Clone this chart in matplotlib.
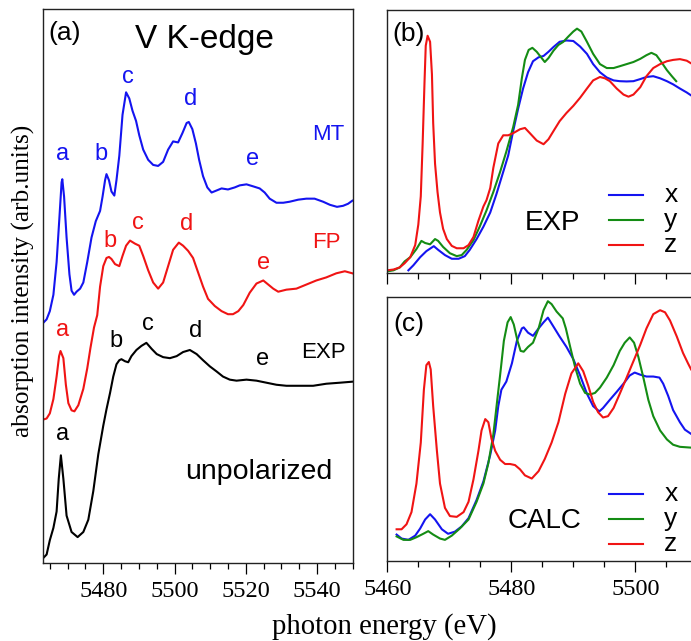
import numpy as np
import matplotlib
matplotlib.use("Agg")
import matplotlib.pyplot as plt
from matplotlib.ticker import MultipleLocator

plt.rcParams['font.family'] = ['Liberation Sans', 'DejaVu Sans']

BLUE = '#1414f0'
RED = '#f01414'
GREEN = '#148c14'
BLACK = '#000000'

# ---- panel (a): unpolarized spectra, stacked ----
e_exp = [5463.0, 5464.1, 5465.0, 5466.0, 5466.9, 5467.5, 5468.1, 5468.8, 5469.7, 5471.1,
         5472.8, 5474.4, 5475.8, 5477.2, 5478.6, 5480.0, 5480.9, 5481.9, 5482.8, 5483.7,
         5484.5, 5485.1, 5486.1, 5487.0, 5487.9, 5489.3, 5490.7, 5492.1, 5493.6, 5495.0,
         5496.8, 5498.7, 5500.6, 5502.4, 5504.3, 5506.2, 5508.0, 5509.9, 5511.8, 5513.6,
         5515.5, 5517.4, 5520.2, 5523.0, 5525.8, 5528.6, 5531.4, 5535.1, 5538.9, 5542.6,
         5546.4, 5549.9]
mu_exp = [0.04, 0.08, 0.22, 0.34, 0.50, 0.82, 1.05, 0.82, 0.46, 0.30,
          0.25, 0.30, 0.42, 0.70, 1.06, 1.34, 1.50, 1.66, 1.82, 1.94,
          1.98, 1.99, 1.97, 1.96, 2.02, 2.08, 2.12, 2.15, 2.09, 2.04,
          2.01, 2.00, 2.02, 2.06, 2.08, 2.04, 1.98, 1.92, 1.87, 1.82,
          1.79, 1.78, 1.79, 1.78, 1.76, 1.74, 1.73, 1.73, 1.73, 1.75,
          1.76, 1.77]

e_fp = [5463.2, 5464.1, 5465.0, 5466.0, 5466.9, 5467.6, 5468.0, 5468.8, 5469.5, 5470.2,
        5471.1, 5471.9, 5473.0, 5474.4, 5475.5, 5476.4, 5477.4, 5478.3, 5479.1, 5480.0,
        5480.9, 5481.6, 5482.3, 5483.3, 5484.5, 5485.4, 5486.4, 5487.5, 5488.9, 5490.1,
        5491.2, 5492.6, 5494.0, 5495.4, 5496.8, 5498.2, 5499.6, 5501.2, 5502.4, 5503.8,
        5505.2, 5506.6, 5508.0, 5509.4, 5511.3, 5513.2, 5515.0, 5516.4, 5517.9, 5519.3,
        5521.1, 5523.0, 5524.9, 5526.3, 5527.7, 5529.1, 5531.4, 5534.2, 5537.0, 5539.8,
        5542.6, 5545.4, 5547.8, 5549.9]
mu_fp = [1.40, 1.41, 1.46, 1.60, 1.82, 2.02, 2.07, 2.00, 1.74, 1.56,
         1.49, 1.48, 1.54, 1.70, 1.90, 2.10, 2.30, 2.42, 2.70, 2.90,
         2.98, 2.99, 2.97, 2.92, 2.90, 3.00, 3.10, 3.15, 3.12, 3.10,
         3.00, 2.86, 2.74, 2.68, 2.74, 2.90, 3.06, 3.13, 3.10, 3.05,
         2.98, 2.84, 2.70, 2.58, 2.51, 2.46, 2.43, 2.43, 2.46, 2.52,
         2.64, 2.73, 2.76, 2.72, 2.68, 2.65, 2.67, 2.68, 2.72, 2.76,
         2.79, 2.83, 2.85, 2.83]

e_mt = [5463.0, 5464.1, 5465.0, 5466.0, 5466.9, 5467.7, 5468.3, 5468.5, 5469.0, 5469.7,
        5470.5, 5471.1, 5471.8, 5472.5, 5473.5, 5474.4, 5475.5, 5476.7, 5477.9, 5479.1,
        5479.8, 5480.5, 5480.9, 5481.6, 5482.3, 5483.1, 5483.7, 5484.5, 5485.4, 5486.4,
        5487.3, 5488.2, 5489.2, 5490.1, 5491.2, 5492.6, 5494.0, 5495.4, 5496.8, 5498.2,
        5499.6, 5501.0, 5502.2, 5503.4, 5504.0, 5505.0, 5506.0, 5506.9, 5508.0, 5509.2,
        5510.4, 5511.8, 5513.2, 5515.0, 5516.9, 5518.3, 5520.2, 5522.1, 5523.9, 5525.3,
        5526.7, 5528.6, 5530.5, 5532.3, 5534.7, 5537.0, 5539.3, 5541.7, 5543.6, 5545.6,
        5547.3, 5548.7, 5549.9]
mu_mt = [2.34, 2.38, 2.46, 2.62, 2.94, 3.38, 3.72, 3.75, 3.58, 3.18,
         2.82, 2.66, 2.62, 2.65, 2.68, 2.74, 2.94, 3.18, 3.34, 3.44,
         3.58, 3.74, 3.80, 3.74, 3.63, 3.59, 3.74, 3.98, 4.38, 4.60,
         4.54, 4.42, 4.32, 4.18, 4.04, 3.94, 3.89, 3.88, 3.92, 4.04,
         4.12, 4.11, 4.20, 4.30, 4.31, 4.24, 4.10, 3.94, 3.78, 3.67,
         3.62, 3.64, 3.66, 3.65, 3.67, 3.69, 3.70, 3.68, 3.66, 3.62,
         3.56, 3.52, 3.52, 3.53, 3.55, 3.56, 3.56, 3.53, 3.50, 3.48,
         3.49, 3.51, 3.54]

# feature labels: (letter, energy, height)
peaks_mt = [('a', 5468.7, 4.00), ('b', 5479.3, 4.00), ('c', 5486.8, 4.75),
            ('d', 5504.6, 4.53), ('e', 5521.8, 3.95)]
peaks_fp = [('a', 5468.7, 2.28), ('b', 5481.8, 3.15), ('c', 5489.6, 3.32),
            ('d', 5503.4, 3.31), ('e', 5525.0, 2.93)]
peaks_exp = [('a', 5468.7, 1.26), ('b', 5483.6, 2.17), ('c', 5492.6, 2.33),
             ('d', 5505.9, 2.27), ('e', 5524.8, 1.99)]

# ---- panel (b): polarized experiment ----
eb_z = [5460.0, 5461.0, 5462.0, 5462.8, 5463.7, 5464.5, 5465.0, 5465.4, 5465.7, 5466.0,
        5466.2, 5466.5, 5466.9, 5467.2, 5467.4, 5467.7, 5468.1, 5468.5, 5469.0, 5469.6,
        5470.4, 5471.2, 5472.3, 5473.1, 5473.9, 5474.7, 5475.5, 5476.0, 5476.6, 5477.1,
        5477.9, 5478.7, 5479.5, 5480.3, 5481.4, 5482.2, 5483.0, 5484.1, 5485.2, 5486.0,
        5486.8, 5487.8, 5488.9, 5490.0, 5491.1, 5492.2, 5493.2, 5494.3, 5495.1, 5495.9,
        5497.0, 5498.1, 5498.9, 5499.7, 5500.8, 5501.8, 5502.9, 5504.0, 5505.1, 5506.1,
        5507.2, 5508.3, 5509.0]
mb_z = [0.009, 0.012, 0.020, 0.036, 0.059, 0.105, 0.183, 0.291, 0.492, 0.724,
        0.864, 0.902, 0.879, 0.755, 0.570, 0.415, 0.307, 0.229, 0.167, 0.128,
        0.102, 0.093, 0.093, 0.105, 0.136, 0.198, 0.252, 0.276, 0.322, 0.399,
        0.492, 0.523, 0.523, 0.531, 0.546, 0.551, 0.531, 0.503, 0.489, 0.508,
        0.539, 0.577, 0.608, 0.635, 0.666, 0.701, 0.732, 0.745, 0.740, 0.729,
        0.701, 0.678, 0.670, 0.678, 0.706, 0.748, 0.779, 0.794, 0.805, 0.810,
        0.813, 0.807, 0.797]

eb_x = [5463.4, 5464.2, 5465.3, 5466.3, 5467.5, 5468.2, 5469.3, 5470.4, 5471.5, 5472.5,
        5473.3, 5474.4, 5475.5, 5476.6, 5477.6, 5478.7, 5479.5, 5480.3, 5481.1, 5481.9,
        5482.7, 5483.5, 5484.4, 5485.2, 5486.0, 5486.8, 5487.8, 5488.9, 5490.0, 5491.1,
        5492.2, 5493.2, 5494.3, 5495.4, 5496.5, 5497.5, 5498.6, 5499.7, 5500.8, 5501.8,
        5502.9, 5504.0, 5505.1, 5506.1, 5507.2, 5508.3, 5509.0]
mb_x = [0.009, 0.028, 0.059, 0.082, 0.101, 0.087, 0.067, 0.053, 0.053, 0.063,
        0.087, 0.128, 0.175, 0.229, 0.299, 0.384, 0.446, 0.539, 0.624, 0.701,
        0.763, 0.805, 0.820, 0.825, 0.841, 0.859, 0.879, 0.884, 0.882, 0.861,
        0.833, 0.794, 0.763, 0.743, 0.732, 0.729, 0.728, 0.729, 0.737, 0.745,
        0.748, 0.740, 0.729, 0.717, 0.701, 0.686, 0.675]

eb_y = [5460.0, 5461.0, 5462.0, 5462.8, 5463.7, 5464.7, 5465.5, 5466.1, 5466.9, 5467.7,
        5468.2, 5469.0, 5470.1, 5471.2, 5472.0, 5472.8, 5473.9, 5474.9, 5476.0, 5477.1,
        5478.2, 5479.2, 5480.3, 5481.1, 5481.7, 5482.2, 5482.8, 5483.4, 5484.1, 5484.9,
        5485.4, 5486.0, 5486.8, 5487.6, 5488.4, 5489.2, 5490.0, 5490.6, 5491.3, 5492.2,
        5493.2, 5494.3, 5495.4, 5496.5, 5497.5, 5498.6, 5499.7, 5500.8, 5501.8, 5502.6,
        5503.4, 5504.2, 5505.1, 5505.9, 5506.6]
mb_y = [0.005, 0.009, 0.020, 0.043, 0.059, 0.090, 0.121, 0.113, 0.108, 0.128,
        0.121, 0.098, 0.074, 0.063, 0.067, 0.087, 0.124, 0.175, 0.237, 0.307,
        0.384, 0.461, 0.554, 0.639, 0.740, 0.810, 0.848, 0.856, 0.841, 0.817,
        0.802, 0.817, 0.845, 0.867, 0.879, 0.899, 0.918, 0.929, 0.918, 0.879,
        0.833, 0.794, 0.779, 0.779, 0.786, 0.794, 0.802, 0.814, 0.828, 0.837,
        0.828, 0.802, 0.771, 0.748, 0.729]

# ---- panel (c): polarized calculation ----
ec_z = [5461.5, 5462.3, 5463.1, 5463.9, 5464.7, 5465.4, 5465.9, 5466.3, 5466.7, 5467.0,
        5467.4, 5468.0, 5468.5, 5469.3, 5470.1, 5471.2, 5472.3, 5473.1, 5473.9, 5474.7,
        5475.2, 5475.8, 5476.3, 5476.8, 5477.4, 5478.2, 5479.0, 5479.8, 5480.6, 5481.4,
        5482.2, 5483.3, 5484.4, 5485.4, 5486.5, 5487.6, 5488.7, 5489.7, 5490.8, 5491.6,
        5492.4, 5493.2, 5494.0, 5494.8, 5495.6, 5496.5, 5497.5, 5498.6, 5499.7, 5500.8,
        5501.8, 5502.9, 5504.0, 5504.8, 5505.6, 5506.7, 5507.7, 5508.5, 5509.0]
mc_z = [0.120, 0.120, 0.139, 0.185, 0.293, 0.448, 0.648, 0.741, 0.753, 0.725,
        0.586, 0.417, 0.293, 0.201, 0.170, 0.167, 0.185, 0.224, 0.309, 0.417,
        0.494, 0.537, 0.525, 0.463, 0.417, 0.383, 0.367, 0.367, 0.363, 0.347,
        0.324, 0.312, 0.340, 0.386, 0.448, 0.525, 0.633, 0.710, 0.748, 0.718,
        0.664, 0.602, 0.563, 0.543, 0.548, 0.579, 0.633, 0.694, 0.756, 0.818,
        0.880, 0.934, 0.949, 0.941, 0.910, 0.849, 0.787, 0.748, 0.725]

ec_x = [5461.5, 5462.3, 5463.4, 5464.5, 5465.3, 5466.1, 5466.9, 5467.7, 5468.8, 5469.8,
        5470.9, 5472.0, 5473.1, 5474.4, 5475.5, 5476.6, 5477.4, 5477.9, 5478.4, 5479.2,
        5480.1, 5480.9, 5481.7, 5482.0, 5482.7, 5483.5, 5484.4, 5485.2, 5485.9, 5486.8,
        5487.8, 5488.9, 5490.0, 5491.1, 5492.2, 5493.2, 5494.2, 5494.8, 5495.9, 5497.0,
        5498.1, 5499.1, 5499.9, 5500.8, 5501.8, 5502.9, 5503.9, 5504.5, 5505.3, 5506.1,
        5507.2, 5508.0, 5509.0]
mc_x = [0.100, 0.085, 0.080, 0.096, 0.123, 0.157, 0.177, 0.157, 0.120, 0.103,
        0.111, 0.131, 0.162, 0.231, 0.301, 0.401, 0.494, 0.586, 0.648, 0.679,
        0.748, 0.833, 0.880, 0.884, 0.864, 0.852, 0.880, 0.903, 0.921, 0.887,
        0.849, 0.810, 0.764, 0.702, 0.633, 0.586, 0.566, 0.579, 0.610, 0.640,
        0.671, 0.702, 0.713, 0.705, 0.698, 0.698, 0.694, 0.671, 0.625, 0.571,
        0.525, 0.497, 0.481]

ec_y = [5461.5, 5462.6, 5463.7, 5464.7, 5465.8, 5466.6, 5467.4, 5468.5, 5469.3, 5470.4,
        5471.7, 5473.1, 5474.4, 5475.5, 5476.3, 5477.1, 5477.7, 5478.3, 5478.8, 5479.4,
        5479.9, 5480.4, 5481.0, 5481.5, 5482.0, 5482.7, 5483.5, 5484.4, 5485.2, 5485.9,
        5486.5, 5487.3, 5488.3, 5488.8, 5489.5, 5490.3, 5491.1, 5491.9, 5492.7, 5493.5,
        5494.3, 5495.4, 5496.5, 5497.5, 5498.3, 5499.1, 5499.8, 5500.5, 5501.3, 5502.1,
        5502.9, 5504.0, 5505.1, 5506.1, 5507.2, 5509.0]
mc_y = [0.093, 0.080, 0.080, 0.090, 0.103, 0.113, 0.100, 0.085, 0.080, 0.096,
        0.123, 0.157, 0.224, 0.293, 0.370, 0.478, 0.602, 0.725, 0.833, 0.903,
        0.923, 0.895, 0.833, 0.795, 0.792, 0.810, 0.826, 0.880, 0.949, 0.983,
        0.972, 0.944, 0.918, 0.880, 0.810, 0.733, 0.671, 0.636, 0.630, 0.636,
        0.656, 0.694, 0.741, 0.795, 0.826, 0.846, 0.826, 0.772, 0.694, 0.610,
        0.548, 0.494, 0.460, 0.440, 0.432, 0.429]

LW = 1.5
SERIF = 'Liberation Serif'


def style_axis(ax, xmin, xmax, labels=True):
    ax.set_xlim(xmin, xmax)
    ax.xaxis.set_major_locator(MultipleLocator(20))
    ax.xaxis.set_minor_locator(MultipleLocator(5))
    ax.set_yticks([])
    ax.tick_params(axis='x', which='major', direction='out', length=8, width=0.9,
                   pad=5, labelsize=17.5, labelbottom=labels, labelfontfamily=SERIF)
    ax.tick_params(axis='x', which='minor', direction='out', length=4.5, width=0.9)
    for s in ax.spines.values():
        s.set_linewidth(1.0)
        s.set_color('#222222')


def key(ax, ypos, color, text):
    ax.plot([0.715, 0.825], [ypos, ypos], color=color, lw=LW, transform=ax.transAxes)
    ax.text(0.915, ypos, text, transform=ax.transAxes, fontsize=19,
            ha='center', va='center')


fig = plt.figure(figsize=(6.91, 6.41), dpi=100)

ax_a = fig.add_axes([0.0618, 0.1222, 0.4486, 0.8633])
ax_b = fig.add_axes([0.5605, 0.5746, 0.4486, 0.4098])
ax_c = fig.add_axes([0.5605, 0.1248, 0.4486, 0.4123])

# panel (a)
ax_a.plot(e_exp, mu_exp, color=BLACK, lw=LW)
ax_a.plot(e_fp, mu_fp, color=RED, lw=LW)
ax_a.plot(e_mt, mu_mt, color=BLUE, lw=LW)
for peaks, color in [(peaks_mt, BLUE), (peaks_fp, RED), (peaks_exp, BLACK)]:
    for name, e, h in peaks:
        ax_a.text(e, h, name, color=color, fontsize=17, ha='center', va='center')
ax_a.text(5543.1, 4.19, 'MT', color=BLUE, fontsize=16, ha='center', va='center')
ax_a.text(5542.6, 3.13, 'FP', color=RED, fontsize=16, ha='center', va='center')
ax_a.text(5541.8, 2.06, 'EXP', color=BLACK, fontsize=16, ha='center', va='center')
ax_a.text(5523.5, 0.89, 'unpolarized', fontsize=20.5, ha='center', va='center')
ax_a.text(5508.3, 5.12, 'V K-edge', fontsize=24, ha='center', va='center')
ax_a.text(0.07, 0.957, '(a)', transform=ax_a.transAxes, fontsize=19,
          ha='center', va='center')
ax_a.set_ylim(0, 5.412)
style_axis(ax_a, 5463, 5550)

# panel (b)
ax_b.plot(eb_x, mb_x, color=BLUE, lw=LW)
ax_b.plot(eb_y, mb_y, color=GREEN, lw=LW)
ax_b.plot(eb_z, mb_z, color=RED, lw=LW)
ax_b.set_ylim(0, 1)
style_axis(ax_b, 5460, 5510, labels=False)
ax_b.text(0.068, 0.91, '(b)', transform=ax_b.transAxes, fontsize=19,
          ha='center', va='center')
ax_b.text(0.532, 0.19, 'EXP', transform=ax_b.transAxes, fontsize=20,
          ha='center', va='center')
key(ax_b, 0.294, BLUE, 'x')
key(ax_b, 0.201, GREEN, 'y')
key(ax_b, 0.105, RED, 'z')

# panel (c)
ax_c.plot(ec_x, mc_x, color=BLUE, lw=LW)
ax_c.plot(ec_y, mc_y, color=GREEN, lw=LW)
ax_c.plot(ec_z, mc_z, color=RED, lw=LW)
ax_c.set_ylim(0, 1)
style_axis(ax_c, 5460, 5510)
ax_c.text(0.068, 0.898, '(c)', transform=ax_c.transAxes, fontsize=19,
          ha='center', va='center')
ax_c.text(0.508, 0.151, 'CALC', transform=ax_c.transAxes, fontsize=20,
          ha='center', va='center')
key(ax_c, 0.255, BLUE, 'x')
key(ax_c, 0.159, GREEN, 'y')
key(ax_c, 0.065, RED, 'z')

fig.text(0.5565, 1 - 627 / 641, 'photon energy (eV)', family=SERIF, fontsize=20.7,
         ha='center', va='center')
fig.text(23 / 691, 1 - 281 / 641, 'absorption intensity (arb.units)', family=SERIF,
         fontsize=18.3, rotation=90, ha='center', va='center')

fig.savefig('out.png', dpi=100)
